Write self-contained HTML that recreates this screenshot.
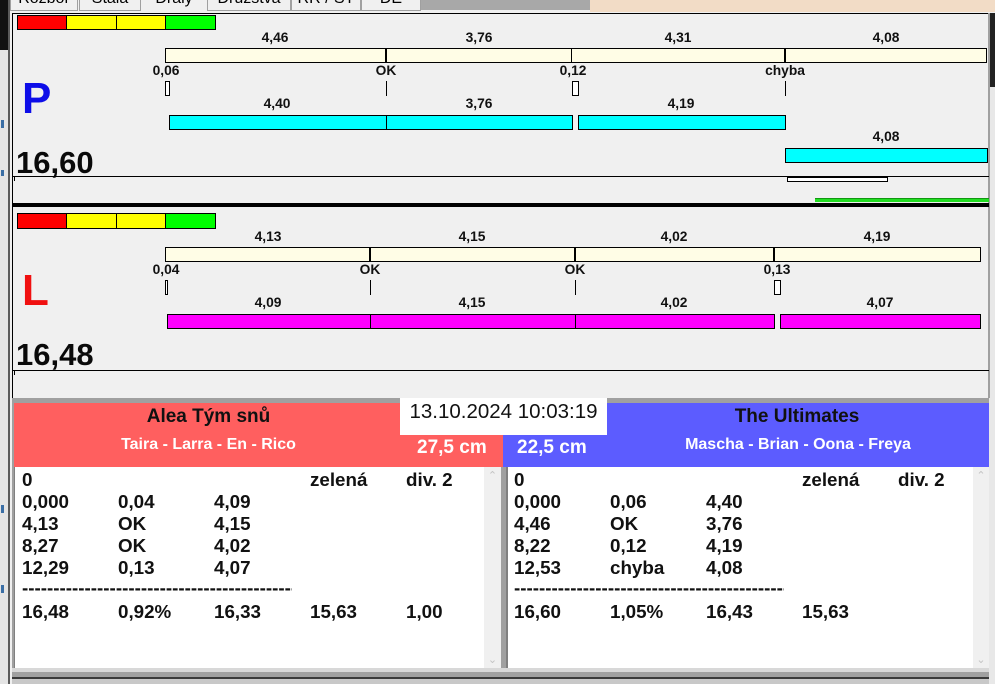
<!DOCTYPE html>
<html>
<head>
<meta charset="utf-8">
<style>
*{margin:0;padding:0;box-sizing:border-box}
html,body{width:995px;height:684px;overflow:hidden;background:#f0f0f0}
body{position:relative;font-family:"Liberation Sans",Arial,sans-serif}
.a{position:absolute}
.lb{position:absolute;width:100px;text-align:center;font-weight:bold;font-size:13.8px;line-height:14px;color:#111;white-space:nowrap}
.bar{position:absolute;border:1px solid #000;height:15px}
.cr{background:#fffde6}
.cy{background:#00ffff}
.mg{background:#ff00ff}
.dv{position:absolute;width:2px;background:#000}
.vl{position:absolute;width:1px;background:#000;height:15px}
.mk{position:absolute;border:1px solid #000;background:#fff;height:15px}
.sc{position:absolute;left:17px;width:199px;border:1px solid #000;display:flex}
.sc div{height:100%;border-right:1px solid #000}
.sc div:last-child{border-right:none}
.tab{position:absolute;top:0;height:11px;border:1px solid #a0a0a0;border-top:none;background:#f0f0f0;overflow:hidden;font-size:16px;line-height:16px;color:#000}
.tab span{position:absolute;top:-9px;left:0;width:100%;text-align:center;white-space:nowrap}
.t{position:absolute;font-weight:bold;font-size:18.8px;line-height:22px;color:#111;white-space:nowrap}
.sb{position:absolute;background:#f0f0f0;color:#c4c4c4;font-size:11px;text-align:center}
</style>
</head>
<body>
<!-- top strip -->
<div class="a" style="left:0;top:0;width:995px;height:13px;background:#f0f0f0"></div>
<div class="a" style="left:421px;top:0;width:170px;height:10px;background:#a8a8a8"></div>
<div class="a" style="left:590px;top:0;width:405px;height:12px;background:#f2dcc6"></div>
<div class="tab" style="left:10px;width:68px"><span>Rozbor</span></div>
<div class="tab" style="left:79px;width:62px"><span>Stala</span></div>
<div class="tab" style="left:141px;width:66px;height:13px;border:none"><span>Draly</span></div>
<div class="tab" style="left:207px;width:84px"><span>Družstva</span></div>
<div class="tab" style="left:291px;width:70px"><span>RR / ST</span></div>
<div class="tab" style="left:361px;width:60px"><span>DE</span></div>

<!-- left strip -->
<div class="a" style="left:0;top:0;width:8px;height:50px;background:#111"></div>
<div class="a" style="left:0;top:50px;width:8px;height:634px;background:#e4e4e4"></div>
<div class="a" style="left:8px;top:0;width:2px;height:684px;background:#5a5a5a"></div>
<div class="a" style="left:1px;top:120px;width:3px;height:8px;background:#3a6ea5"></div>
<div class="a" style="left:1px;top:170px;width:3px;height:6px;background:#3a6ea5"></div>
<div class="a" style="left:1px;top:505px;width:3px;height:8px;background:#3a6ea5"></div>
<div class="a" style="left:1px;top:585px;width:3px;height:8px;background:#3a6ea5"></div>

<!-- main panel border -->
<div class="a" style="left:12px;top:13px;width:977px;height:1px;background:#000"></div>
<div class="a" style="left:12px;top:13px;width:1px;height:386px;background:#000"></div>
<div class="a" style="left:988px;top:13px;width:2px;height:386px;background:#a0a0a0"></div>
<div class="a" style="left:990px;top:13px;width:5px;height:74px;background:#222"></div>
<div class="a" style="left:990px;top:87px;width:5px;height:320px;background:#e8e8e8"></div>

<!-- P section -->
<div class="sc" style="top:15px;height:15px"><div style="width:49px;background:#ff0000"></div><div style="width:50px;background:#ffff00"></div><div style="width:49px;background:#ffff00"></div><div style="width:49px;background:#00ff00"></div></div>

<div class="lb" style="left:225px;top:31px">4,46</div>
<div class="lb" style="left:429px;top:31px">3,76</div>
<div class="lb" style="left:628px;top:31px">4,31</div>
<div class="lb" style="left:836px;top:31px">4,08</div>
<div class="bar cr" style="left:165px;top:48px;width:822px"></div>
<div class="dv" style="left:385px;top:48px;height:15px"></div>
<div class="dv" style="left:571px;top:48px;height:15px;width:1px"></div>
<div class="dv" style="left:784px;top:48px;height:15px"></div>

<div class="lb" style="left:116px;top:64px">0,06</div>
<div class="lb" style="left:336px;top:64px">OK</div>
<div class="lb" style="left:523px;top:64px">0,12</div>
<div class="lb" style="left:735px;top:64px">chyba</div>
<div class="mk" style="left:165px;top:81px;width:5px"></div>
<div class="vl" style="left:386px;top:81px"></div>
<div class="mk" style="left:572px;top:81px;width:7px"></div>
<div class="vl" style="left:785px;top:81px"></div>

<div class="lb" style="left:227px;top:97px">4,40</div>
<div class="lb" style="left:429px;top:97px">3,76</div>
<div class="lb" style="left:631px;top:97px">4,19</div>
<div class="bar cy" style="left:169px;top:115px;width:219px"></div>
<div class="bar cy" style="left:386px;top:115px;width:187px"></div>
<div class="bar cy" style="left:578px;top:115px;width:208px"></div>

<div class="lb" style="left:836px;top:130px">4,08</div>
<div class="bar cy" style="left:785px;top:148px;width:203px"></div>

<div class="a" style="left:22px;top:77px;font-size:44px;line-height:44px;font-weight:bold;color:#0d0de8">P</div>
<div class="a" style="left:16px;top:147px;font-size:31px;line-height:31px;font-weight:bold;color:#0a0a0a">16,60</div>

<div class="a" style="left:12px;top:176px;width:977px;height:1px;background:#000"></div>
<div class="a" style="left:14px;top:176px;width:1px;height:5px;background:#000"></div>
<div class="a" style="left:787px;top:177px;width:101px;height:5px;border:1px solid #000;background:#fff"></div>
<div class="a" style="left:815px;top:198px;width:174px;height:4px;background:#22dd22;border-top:1px solid #119911"></div>
<div class="a" style="left:12px;top:203px;width:977px;height:4px;background:#000"></div>

<!-- L section -->
<div class="sc" style="top:213px;height:16px"><div style="width:49px;background:#ff0000"></div><div style="width:50px;background:#ffff00"></div><div style="width:49px;background:#ffff00"></div><div style="width:49px;background:#00ff00"></div></div>

<div class="lb" style="left:218px;top:230px">4,13</div>
<div class="lb" style="left:422px;top:230px">4,15</div>
<div class="lb" style="left:624px;top:230px">4,02</div>
<div class="lb" style="left:827px;top:230px">4,19</div>
<div class="bar cr" style="left:165px;top:247px;width:816px"></div>
<div class="dv" style="left:369px;top:247px;height:15px"></div>
<div class="dv" style="left:574px;top:247px;height:15px"></div>
<div class="dv" style="left:773px;top:247px;height:15px"></div>

<div class="lb" style="left:116px;top:263px">0,04</div>
<div class="lb" style="left:320px;top:263px">OK</div>
<div class="lb" style="left:525px;top:263px">OK</div>
<div class="lb" style="left:727px;top:263px">0,13</div>
<div class="mk" style="left:165px;top:280px;width:3px"></div>
<div class="vl" style="left:370px;top:280px"></div>
<div class="vl" style="left:575px;top:280px"></div>
<div class="mk" style="left:774px;top:280px;width:7px"></div>

<div class="lb" style="left:218px;top:296px">4,09</div>
<div class="lb" style="left:422px;top:296px">4,15</div>
<div class="lb" style="left:624px;top:296px">4,02</div>
<div class="lb" style="left:830px;top:296px">4,07</div>
<div class="bar mg" style="left:167px;top:314px;width:205px"></div>
<div class="bar mg" style="left:370px;top:314px;width:206px"></div>
<div class="bar mg" style="left:575px;top:314px;width:200px"></div>
<div class="bar mg" style="left:780px;top:314px;width:201px"></div>

<div class="a" style="left:22px;top:269px;font-size:44px;line-height:44px;font-weight:bold;color:#f01010">L</div>
<div class="a" style="left:16px;top:339px;font-size:31px;line-height:31px;font-weight:bold;color:#0a0a0a">16,48</div>

<div class="a" style="left:12px;top:370px;width:977px;height:1px;background:#000"></div>
<div class="a" style="left:14px;top:370px;width:1px;height:5px;background:#000"></div>

<!-- bottom area -->
<div class="a" style="left:12px;top:398px;width:983px;height:286px;background:#a0a0a0"></div>
<div class="a" style="left:12px;top:668px;width:983px;height:4px;background:#d8d8d8"></div>
<div class="a" style="left:12px;top:677px;width:983px;height:2px;background:#3a3a3a"></div>
<div class="a" style="left:12px;top:679px;width:983px;height:5px;background:#c8c8c8"></div>
<div class="a" style="left:989px;top:398px;width:6px;height:286px;background:#e8e8e8"></div>

<!-- red header -->
<div class="a" style="left:14px;top:403px;width:489px;height:64px;background:#ff5f5f"></div>
<div class="a" style="left:14px;top:405px;width:389px;text-align:center;font-size:19px;line-height:24px;font-weight:bold;color:#111">Alea Tým snů</div>
<div class="a" style="left:14px;top:435px;width:389px;text-align:center;font-size:16px;line-height:20px;font-weight:bold;color:#fff">Taira - Larra - En - Rico</div>
<div class="a" style="left:417px;top:437px;font-size:19px;line-height:22px;font-weight:bold;color:#fff">27,5 cm</div>

<!-- blue header -->
<div class="a" style="left:503px;top:403px;width:486px;height:64px;background:#5c5cff"></div>
<div class="a" style="left:607px;top:405px;width:380px;text-align:center;font-size:19px;line-height:24px;font-weight:bold;color:#111">The Ultimates</div>
<div class="a" style="left:607px;top:435px;width:382px;text-align:center;font-size:16px;line-height:20px;font-weight:bold;color:#fff">Mascha - Brian - Oona - Freya</div>
<div class="a" style="left:517px;top:437px;font-size:19px;line-height:22px;font-weight:bold;color:#fff">22,5 cm</div>

<!-- date box -->
<div class="a" style="left:400px;top:398px;width:207px;height:37px;background:#fff"></div>
<div class="a" style="left:400px;top:400px;width:207px;text-align:center;font-size:20.5px;line-height:24px;color:#111">13.10.2024 10:03:19</div>

<!-- left text panel -->
<div class="a" style="left:14px;top:467px;width:487px;height:201px;background:#fff;border-left:1px solid #808080"></div>
<div class="sb" style="left:484px;top:467px;width:17px;height:201px"><div style="margin-top:2px">&#8963;</div><div style="position:absolute;bottom:2px;width:100%">&#8964;</div></div>
<div class="t" style="left:22px;top:469px">0</div>
<div class="t" style="left:310px;top:469px">zelená</div>
<div class="t" style="left:406px;top:469px">div. 2</div>
<div class="t" style="left:22px;top:491px">0,000</div><div class="t" style="left:118px;top:491px">0,04</div><div class="t" style="left:214px;top:491px">4,09</div>
<div class="t" style="left:22px;top:513px">4,13</div><div class="t" style="left:118px;top:513px">OK</div><div class="t" style="left:214px;top:513px">4,15</div>
<div class="t" style="left:22px;top:535px">8,27</div><div class="t" style="left:118px;top:535px">OK</div><div class="t" style="left:214px;top:535px">4,02</div>
<div class="t" style="left:22px;top:557px">12,29</div><div class="t" style="left:118px;top:557px">0,13</div><div class="t" style="left:214px;top:557px">4,07</div>
<div class="t" style="left:22px;top:577px;width:270px;overflow:hidden">---------------------------------------------------</div>
<div class="t" style="left:22px;top:601px">16,48</div><div class="t" style="left:118px;top:601px">0,92%</div><div class="t" style="left:214px;top:601px">16,33</div><div class="t" style="left:310px;top:601px">15,63</div><div class="t" style="left:406px;top:601px">1,00</div>

<!-- right text panel -->
<div class="a" style="left:506px;top:467px;width:483px;height:201px;background:#fff;border-left:2px solid #808080"></div>
<div class="sb" style="left:973px;top:467px;width:16px;height:201px"><div style="margin-top:2px">&#8963;</div><div style="position:absolute;bottom:2px;width:100%">&#8964;</div></div>
<div class="t" style="left:514px;top:469px">0</div>
<div class="t" style="left:802px;top:469px">zelená</div>
<div class="t" style="left:898px;top:469px">div. 2</div>
<div class="t" style="left:514px;top:491px">0,000</div><div class="t" style="left:610px;top:491px">0,06</div><div class="t" style="left:706px;top:491px">4,40</div>
<div class="t" style="left:514px;top:513px">4,46</div><div class="t" style="left:610px;top:513px">OK</div><div class="t" style="left:706px;top:513px">3,76</div>
<div class="t" style="left:514px;top:535px">8,22</div><div class="t" style="left:610px;top:535px">0,12</div><div class="t" style="left:706px;top:535px">4,19</div>
<div class="t" style="left:514px;top:557px">12,53</div><div class="t" style="left:610px;top:557px">chyba</div><div class="t" style="left:706px;top:557px">4,08</div>
<div class="t" style="left:514px;top:577px;width:270px;overflow:hidden">---------------------------------------------------</div>
<div class="t" style="left:514px;top:601px">16,60</div><div class="t" style="left:610px;top:601px">1,05%</div><div class="t" style="left:706px;top:601px">16,43</div><div class="t" style="left:802px;top:601px">15,63</div>
</body>
</html>
